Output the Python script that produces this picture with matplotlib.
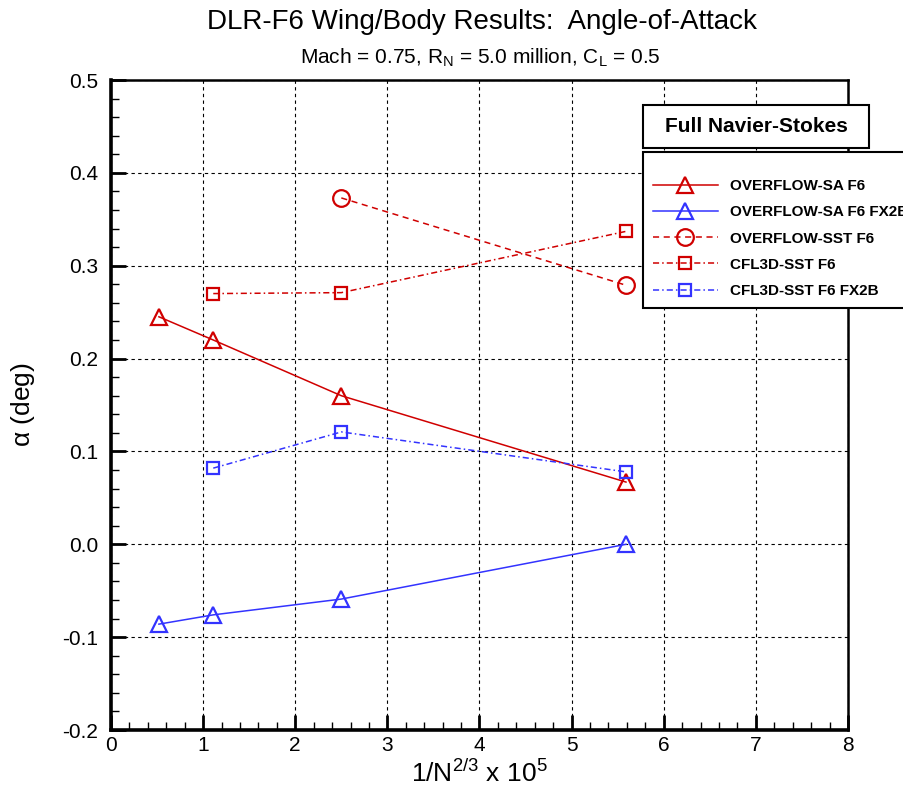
import matplotlib
matplotlib.use("Agg")
import matplotlib.pyplot as plt
from matplotlib.patches import Rectangle
from matplotlib.ticker import MultipleLocator

plt.rcParams["font.family"] = ["Liberation Sans", "DejaVu Sans"]
plt.rcParams["mathtext.fontset"] = "custom"
plt.rcParams["mathtext.rm"] = "Liberation Sans"
plt.rcParams["mathtext.it"] = "Liberation Sans"

# grid-size parameter 1/N^(2/3) x 10^5 and alpha (deg)
sa_x = [0.52, 1.11, 2.50, 5.59]
sa_f6 = [0.245, 0.220, 0.160, 0.067]
sa_fx2b = [-0.086, -0.076, -0.059, 0.000]

sst_x = [2.50, 5.59]
sst_f6 = [0.373, 0.279]

cfl_x = [1.11, 2.50, 5.59]
cfl_f6 = [0.270, 0.271, 0.337]
cfl_fx2b = [0.082, 0.121, 0.078]

red = "#d00000"
blue = "#3333ff"

fig = plt.figure(figsize=(9.04, 7.9), dpi=100)
ax = fig.add_axes([111 / 904, 1 - 730 / 790, 737 / 904, 650 / 790])

ms_kw = dict(markerfacecolor="none", markeredgewidth=1.6, linewidth=1.1)
ax.plot(sa_x, sa_f6, color=red, marker="^", markersize=11, linestyle="-",
        label="OVERFLOW-SA F6", **ms_kw)
ax.plot(sa_x, sa_fx2b, color=blue, marker="^", markersize=11, linestyle="-",
        label="OVERFLOW-SA F6 FX2B", **ms_kw)
ax.plot(sst_x, sst_f6, color=red, marker="o", markersize=12, dashes=(4, 3),
        label="OVERFLOW-SST F6", **ms_kw)
ax.plot(cfl_x, cfl_f6, color=red, marker="s", markersize=9, dashes=(4, 2, 1, 2),
        label="CFL3D-SST F6", **ms_kw)
ax.plot(cfl_x, cfl_fx2b, color=blue, marker="s", markersize=9, dashes=(4, 2, 1, 2),
        label="CFL3D-SST F6 FX2B", **ms_kw)

ax.set_xlim(0, 8)
ax.set_ylim(-0.2, 0.5)
ax.xaxis.set_major_locator(MultipleLocator(1))
ax.xaxis.set_minor_locator(MultipleLocator(0.2))
ax.yaxis.set_major_locator(MultipleLocator(0.1))
ax.yaxis.set_minor_locator(MultipleLocator(0.02))
ax.yaxis.set_major_formatter(matplotlib.ticker.FormatStrFormatter("%.1f"))
ax.xaxis.set_major_formatter(matplotlib.ticker.FormatStrFormatter("%d"))

ax.tick_params(which="both", direction="in", top=False, right=False, labelsize=15)
ax.tick_params(which="major", length=11, width=2)
ax.tick_params(which="minor", length=6, width=1)
ax.tick_params(axis="y", which="major", pad=9)
ax.tick_params(axis="x", which="major", pad=4)
ax.grid(True, which="major", color="black", linestyle=(0, (3, 3)), linewidth=0.8)

for side in ["top", "right"]:
    ax.spines[side].set_linewidth(1.8)
for side in ["left", "bottom"]:
    ax.spines[side].set_linewidth(2.6)

ax.set_xlabel(r"1/N$^{2/3}$ x 10$^5$", fontsize=19, labelpad=4)
ax.set_ylabel(r"$\alpha$ (deg)", fontsize=19, labelpad=18)

fig.text(482 / 904, 1 - 22 / 790, "DLR-F6 Wing/Body Results:  Angle-of-Attack",
         ha="center", va="center", fontsize=20)
fig.text(480 / 904, 1 - 58 / 790,
         r"Mach = 0.75, R$_\mathrm{N}$ = 5.0 million, C$_\mathrm{L}$ = 0.5",
         ha="center", va="center", fontsize=15)

# legend header box
fig.patches.append(Rectangle((643 / 904, 1 - 148 / 790), 226 / 904, 43 / 790,
                             transform=fig.transFigure, facecolor="white",
                             edgecolor="black", linewidth=1.5))
fig.text(756 / 904, 1 - 127 / 790, "Full Navier-Stokes", ha="center", va="center",
         fontsize=15, fontweight="bold")

leg = ax.legend(loc="upper left", bbox_to_anchor=(643 / 904, 1 - 152 / 790),
                bbox_transform=fig.transFigure, borderaxespad=0, fancybox=False,
                framealpha=1, edgecolor="black", handlelength=4.25,
                handletextpad=0.8, labelspacing=0.8, borderpad=0.65,
                title=" ", title_fontsize=4,
                prop={"size": 11, "weight": "bold"})
leg.get_frame().set_linewidth(1.5)

fig.savefig("out.png", dpi=100)
